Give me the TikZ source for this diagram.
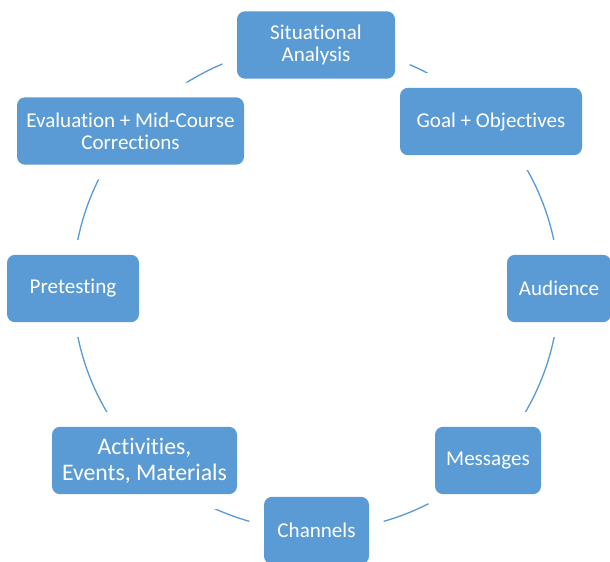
\documentclass[tikz,border=0pt]{standalone}
\usepackage{fontspec}
\setmainfont{Carlito}[Ligatures=NoCommon]
\usepackage{tikz}
\usetikzlibrary{backgrounds}
\definecolor{cycleblue}{RGB}{91,155,213}

\begin{document}
\begin{tikzpicture}[x=0.75pt,y=-0.75pt,
    stage/.style={rectangle, rounded corners=6pt, fill=cycleblue, text=white, align=center,
      font=\fontsize{15.8}{16.5}\selectfont, minimum height=50.5pt, inner sep=2pt,
      preaction={draw=white, line width=22pt}},
    link/.style={draw=cycleblue, line width=1pt, looseness=0.885}]
    \useasboundingbox (0,0) rectangle (610,561);
    \clip (0,0) rectangle (610,561);
    % the eight stages, clockwise from the top
    \node[stage, minimum width=118.5pt] (sit) at (316,45) {Situational\\Analysis};
    \node[stage, minimum width=136.5pt] (goal) at (491,121.5) {Goal + Objectives};
    \node[stage, minimum width=78pt] (aud) at (559,288.5) {Audience};
    \node[stage, minimum width=79.5pt] (msg) at (488,460.5) {Messages};
    \node[stage, minimum width=78.75pt] (chan) at (316.5,530.5) {Channels};
    \node[stage, minimum width=138.75pt, font=\fontsize{17.8}{19.5}\selectfont] (act) at (144.5,460.5) {Activities,\\Events, Materials};
    \node[stage, minimum width=99pt] (pre) at (73,288.5) {Pretesting};
    \node[stage, minimum width=170.25pt] (eval) at (130.5,131) {Evaluation + Mid-Course\\Corrections};
    % arcs of the cycle
    \begin{scope}[on background layer]
    \draw[link] (sit.center) to[bend left=23.2] (goal.center);
    \draw[link] (goal.center) to[bend left=21.8] (aud.center);
    \draw[link] (aud.center) to[bend left=22.5] (msg.center);
    \draw[link] (msg.center) to[bend left=22.5] (chan.center);
    \draw[link] (chan.center) to[bend left=22.4] (act.center);
    \draw[link] (act.center) to[bend left=22.6] (pre.center);
    \draw[link] (pre.center) to[bend left=20.1] (eval.center);
    \draw[link] (eval.center) to[bend left=24.9] (sit.center);
    \end{scope}
\end{tikzpicture}
\end{document}
